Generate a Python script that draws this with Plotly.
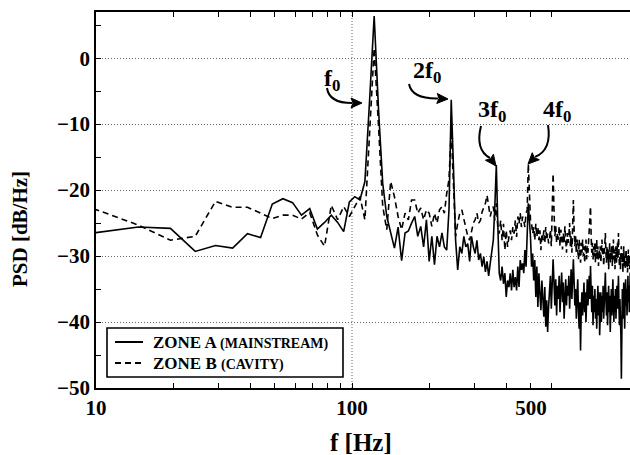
import math
import plotly.graph_objects as go

# FFT bin resolution (Hz) and first bin index shown
DF = 4.8828125
BIN_START = 2

# Zone A (mainstream) PSD in dB/Hz, bins 2..252
zone_a = [
    -26.5, -25.6, -25.8, -29.3, -28.4, -28.8, -26.6, -27.2, -22.1, -21.3,
    -21.9, -23.8, -22.8, -25.9, -24.9, -23.8, -24.9, -26.3, -21.8, -21.0,
    -21.5, -18.7, -6.3, 6.4, -7.8, -19.0, -24.0, -26.5, -28.8, -25.6,
    -30.7, -26.5, -26.2, -25.0, -24.0, -27.0, -25.5, -28.6, -24.5, -30.8,
    -27.0, -31.3, -27.0, -28.6, -26.5, -28.6, -29.1, -23.0, -6.3, -16.4,
    -27.6, -32.1, -28.6, -29.6, -27.0, -28.6, -28.1, -30.8, -27.0, -28.6,
    -29.6, -27.6, -30.6, -29.6, -31.6, -30.1, -32.4, -30.8, -33.0, -31.1,
    -29.6, -27.6, -22.5, -16.2, -25.1, -32.6, -33.7, -31.6, -34.2, -32.6,
    -36.2, -33.7, -34.7, -32.6, -35.2, -32.1, -34.7, -33.2, -35.2, -31.6,
    -34.7, -30.6, -32.1, -31.1, -32.6, -29.1, -31.6, -27.6, -22.0, -24.6,
    -27.1, -31.6, -29.6, -33.7, -30.6, -36.2, -31.6, -37.7, -32.6, -35.7,
    -38.2, -33.7, -36.7, -39.2, -34.7, -40.7, -36.7, -41.5, -37.7,
    -35.5, -33.0, -38.0, -32.5, -30.5, -34.0, -37.5, -33.5, -39.0, -34.5,
    -36.5, -33.0, -38.5, -35.0, -32.5, -37.0, -34.0, -39.5, -35.5, -33.5,
    -37.5, -34.5, -36.0, -33.0, -38.0, -35.0, -32.0, -36.5, -33.5, -30.5,
    -34.0, -37.5, -35.0, -39.5, -36.0, -33.5, -38.5, -41.0, -37.0, -44.3,
    -38.0, -35.5, -39.0, -36.5, -34.0, -38.5, -35.5, -40.0, -36.0, -33.5,
    -37.5, -35.0, -33.0, -36.5, -31.5, -35.5, -38.5, -34.5, -40.5, -36.0,
    -38.5, -35.0, -39.5, -36.5, -41.0, -37.0, -34.5, -39.0, -35.5, -42.0,
    -37.5, -35.5, -40.0, -36.0, -38.5, -34.5, -39.5, -37.0, -35.0, -32.5,
    -36.5, -39.0, -35.5, -40.5, -37.0, -34.5, -38.5, -36.0, -41.5, -37.5,
    -35.0, -39.0, -36.5, -33.5, -37.5, -40.0, -36.0, -38.5, -35.0, -39.5,
    -37.0, -34.5, -38.0, -36.0, -33.0, -37.5, -40.5, -36.5, -39.0, -42.0,
    -48.6, -38.0, -35.0, -39.5, -36.5, -34.0, -38.0, -41.0, -36.0, -33.5,
    -37.5, -35.0, -39.0, -36.0, -33.0, -37.0, -34.5, -38.5, -35.5, -32.5,
    -34.5, -33.0,
]

# Zone B (cavity) PSD in dB/Hz, bins 2..252
zone_b = [
    -22.8, -25.3, -27.6, -27.0, -21.7, -22.6, -22.6, -23.5, -24.3, -23.8,
    -23.8, -24.4, -23.4, -26.8, -28.5, -22.3, -24.5, -22.5, -24.0, -22.5,
    -21.0, -24.5, -11.0, 1.5, -10.3, -22.5, -26.0, -18.7, -21.0, -24.0,
    -26.0, -23.5, -24.5, -21.5, -21.5, -23.5, -22.7, -24.5, -23.0, -23.5,
    -25.5, -23.5, -25.0, -23.0, -22.5, -23.5, -20.5, -18.4, -10.9, -18.4,
    -27.0, -25.0, -23.5, -23.0, -24.5, -25.5, -27.0, -27.6, -26.0, -25.0,
    -24.5, -23.5, -25.0, -24.6, -23.3, -22.5, -22.0, -20.8, -22.5, -24.0,
    -23.0, -22.5, -24.6, -22.0, -25.6, -26.6, -24.6, -27.6, -25.1, -29.1,
    -26.1, -28.6, -27.1, -26.1, -27.6, -25.6, -26.6, -24.6, -27.1, -24.0,
    -25.1, -23.5, -25.6, -24.0, -24.6, -25.6, -23.5, -23.0, -16.0, -20.0,
    -24.6, -25.1, -26.6, -25.6, -27.6, -25.1, -27.1, -25.6, -27.6, -26.1,
    -29.1, -26.6, -27.6, -26.1, -28.1, -25.6, -27.6, -26.6, -28.1,
    -27.5, -26.0, -28.5, -24.0, -17.5, -23.0, -27.0, -25.5, -28.0, -26.5,
    -27.5, -25.5, -28.5, -26.0, -27.0, -29.0, -26.5, -28.0, -25.5, -27.5,
    -29.5, -26.5, -28.0, -27.0, -25.0, -28.5, -27.0, -29.5, -26.0, -21.5,
    -26.0, -28.5, -27.0, -29.5, -27.5, -28.5, -30.5, -27.5, -29.0, -31.0,
    -28.0, -29.5, -27.5, -30.0, -28.5, -31.0, -29.0, -27.5, -30.5, -28.5,
    -29.5, -27.5, -26.5, -25.5, -22.5, -27.0, -29.5, -28.0, -30.5, -28.5,
    -30.0, -28.0, -31.0, -29.0, -27.5, -30.5, -28.5, -31.5, -29.0, -30.5,
    -28.5, -31.0, -29.5, -27.5, -30.0, -28.5, -31.5, -29.0, -28.0, -26.5,
    -29.5, -31.0, -28.5, -30.5, -29.0, -32.0, -29.5, -28.0, -31.0, -29.5,
    -30.5, -28.5, -31.5, -29.0, -27.5, -30.5, -29.0, -32.0, -30.0, -28.5,
    -31.0, -29.5, -28.0, -30.5, -26.5, -29.5, -31.5, -30.0, -32.0, -29.5,
    -28.5, -31.0, -29.5, -32.5, -30.0, -28.5, -31.5, -30.0, -32.0, -30.5,
    -29.0, -31.5, -30.0, -32.5, -30.5, -29.0, -31.5, -30.0, -32.0, -31.0,
    -30.5, -31.0,
]

freq = [DF * (BIN_START + i) for i in range(len(zone_a))]

series_names = ["ZONE A", "ZONE B"]
series_notes = ["(MAINSTREAM)", "(CAVITY)"]

x_tickvals = [10, 100, 500]
x_ticktext = ["10", "100", "500"]
x_minor = [20, 30, 40, 50, 60, 70, 80, 90, 200, 300, 400, 600]
y_tickvals = [-50, -40, -30, -20, -10, 0]
y_minor = [-45, -35, -25, -15, -5, 5]

harmonic_labels = ["f<sub>0</sub>", "2f<sub>0</sub>", "3f<sub>0</sub>", "4f<sub>0</sub>"]

FONT = "Liberation Serif"
W, H = 630, 455
L, R, T, B = 96, 630, 12, 388


def px(x):
    return (x - L) / (R - L)


def py(y):
    return (B - y) / (B - T)


DASH = "6px,4px"
GRID_DASH = "1px,2px"
GRID_COLOR = "#666666"
fig = go.Figure()

# vertical dotted reference grid at 100 Hz
fig.add_trace(go.Scatter(x=[100, 100], y=[-50, 7], mode="lines",
                         line=dict(color=GRID_COLOR, width=1, dash=GRID_DASH),
                         showlegend=False, hoverinfo="skip"))

fig.add_trace(go.Scatter(x=freq, y=zone_a, mode="lines",
                         name=series_names[0] + " " + series_notes[0],
                         line=dict(color="black", width=1.6), showlegend=False))
fig.add_trace(go.Scatter(x=freq, y=zone_b, mode="lines",
                         name=series_names[1] + " " + series_notes[1],
                         line=dict(color="black", width=1.6, dash=DASH), showlegend=False))

fig.update_layout(
    width=W, height=H,
    margin=dict(l=L, r=W - R, t=T, b=H - B, autoexpand=False),
    plot_bgcolor="white", paper_bgcolor="white",
    font=dict(family=FONT, color="black"),
    xaxis=dict(type="log", range=[1, 1 + (R - L) / 256.0],
               tickmode="array", tickvals=x_tickvals, ticktext=x_ticktext,
               ticks="inside", ticklen=5, tickwidth=1.2, tickcolor="black",
               minor=dict(tickmode="array", tickvals=x_minor, ticks="inside",
                          ticklen=5, tickwidth=1.2, tickcolor="black", showgrid=False),
               showgrid=False, zeroline=False, automargin=False,
               showline=True, linecolor="black", linewidth=1.6, mirror="ticks",
               tickfont=dict(family=FONT, size=21, color="black", weight="bold")),
    yaxis=dict(range=[-50, 7], tickmode="array", tickvals=y_tickvals,
               ticks="inside", ticklen=5, tickwidth=1.2, tickcolor="black",
               minor=dict(tickmode="array", tickvals=y_minor, ticks="inside",
                          ticklen=5, tickwidth=1.2, tickcolor="black", showgrid=False),
               showgrid=True, gridcolor=GRID_COLOR, griddash=GRID_DASH, gridwidth=1,
               zeroline=False, showline=True, linecolor="black", linewidth=1.6,
               mirror=False, automargin=False,
               tickfont=dict(family=FONT, size=21, color="black", weight="bold")),
    showlegend=False,
)

annotations = []
shapes = []

# axis titles
annotations.append(dict(text="<b>f [Hz]</b>", x=px(361), y=py(443), xref="paper", yref="paper",
                        showarrow=False, font=dict(family=FONT, size=25, color="black"),
                        xanchor="center", yanchor="middle"))
annotations.append(dict(text="<b>PSD [dB/Hz]</b>", x=px(20), y=py(229), xref="paper", yref="paper",
                        showarrow=False, textangle=-90, font=dict(family=FONT, size=21, color="black"),
                        xanchor="center", yanchor="middle"))

# harmonic labels
label_pos = [(332, 80), (427, 72), (492, 111), (557, 111)]
for txt, (lx, ly) in zip(harmonic_labels, label_pos):
    annotations.append(dict(text="<b>" + txt + "</b>", x=px(lx), y=py(ly), xref="paper", yref="paper",
                            showarrow=False, font=dict(family=FONT, size=24, color="black"),
                            xanchor="center", yanchor="middle"))

# curved arrows: (start, control, tip, direction at tip) in pixels
curves = [
    ((327, 88), (329, 103), (362, 103), (1.0, 0.0)),
    ((409, 84), (412, 99), (448, 99), (1.0, 0.05)),
    ((481, 126), (475, 150), (496, 166), (0.6, 0.8)),
    ((548, 125), (552, 150), (528, 164), (-0.7, 0.7)),
]
HEAD_L, HEAD_W = 11, 5
for (x0, y0), (cx, cy), (tx, ty), (dx, dy) in curves:
    n = math.hypot(dx, dy)
    dx, dy = dx / n, dy / n
    bx, by = tx - HEAD_L * dx, ty - HEAD_L * dy
    nx, ny = -dy, dx
    shapes.append(dict(type="path", xref="paper", yref="paper",
                       path=f"M {px(x0)},{py(y0)} Q {px(cx)},{py(cy)} {px(bx + dx)},{py(by + dy)}",
                       line=dict(color="black", width=2)))
    c1 = (bx + HEAD_W * nx, by + HEAD_W * ny)
    c2 = (bx - HEAD_W * nx, by - HEAD_W * ny)
    shapes.append(dict(type="path", xref="paper", yref="paper",
                       path=(f"M {px(tx)},{py(ty)} L {px(c1[0])},{py(c1[1])} "
                             f"L {px(bx + 2 * dx)},{py(by + 2 * dy)} L {px(c2[0])},{py(c2[1])} Z"),
                       fillcolor="black", line=dict(color="black", width=1)))

# legend box (drawn by hand to match spacing)
LEG_X0, LEG_Y0, LEG_X1, LEG_Y1 = 107, 328, 343, 377
shapes.append(dict(type="rect", xref="paper", yref="paper",
                   x0=px(LEG_X0), x1=px(LEG_X1), y0=py(LEG_Y1), y1=py(LEG_Y0),
                   fillcolor="white", line=dict(color="black", width=1.6)))
row_y = [342, 363]
dashes = ["solid", DASH]
for name, note, ry, dsh in zip(series_names, series_notes, row_y, dashes):
    shapes.append(dict(type="line", xref="paper", yref="paper",
                       x0=px(115), x1=px(143), y0=py(ry), y1=py(ry),
                       line=dict(color="black", width=2, dash=dsh)))
    annotations.append(dict(
        text=f"<b>{name} <span style='font-size:14px'>{note}</span></b>",
        x=px(151), y=py(ry), xref="paper", yref="paper", showarrow=False,
        font=dict(family=FONT, size=17, color="black"),
        xanchor="left", yanchor="middle"))

fig.update_layout(annotations=annotations, shapes=shapes)

fig.write_html("out.html", config={"displayModeBar": False},
               post_script="document.body.style.margin='0px';")
